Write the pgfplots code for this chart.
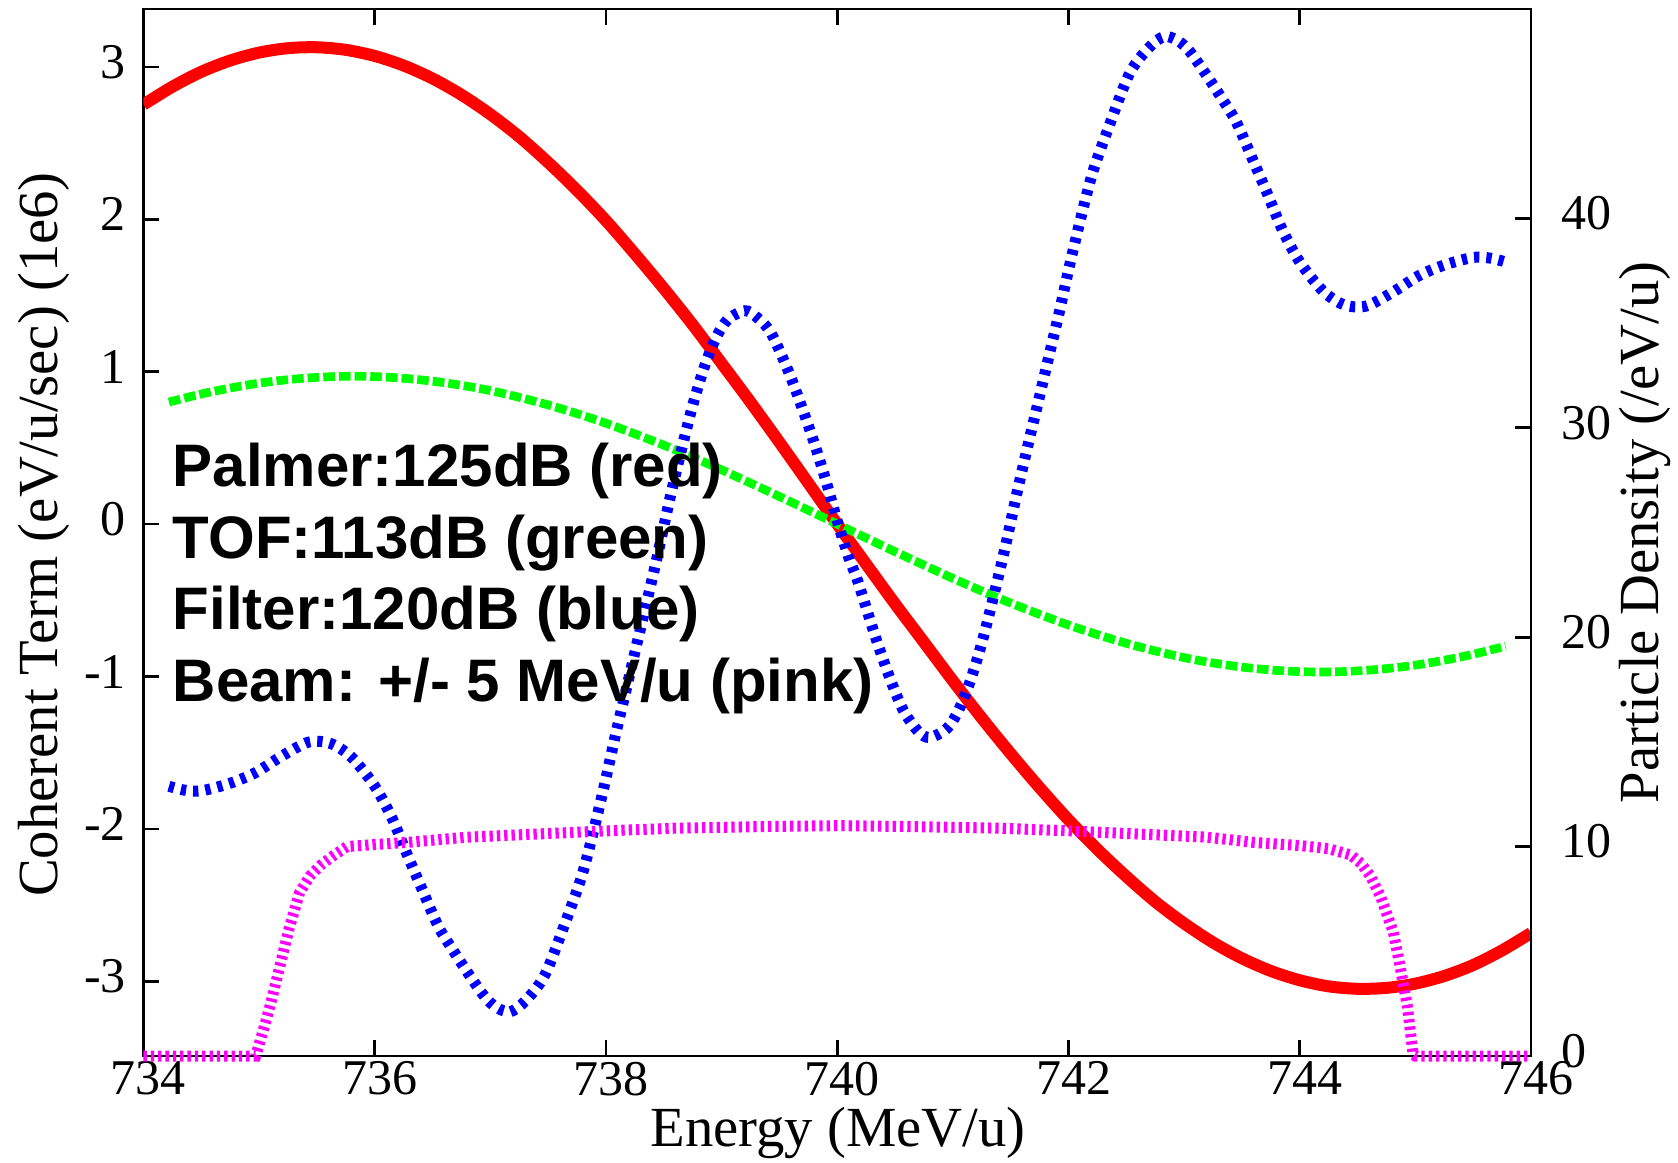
\documentclass[border=0pt]{standalone}
\usepackage{pgfplots}
\pgfplotsset{compat=1.18}
\usepackage{fontspec}
\setmainfont{Liberation Serif}
\newfontfamily\legfont{Liberation Sans}
\definecolor{gpred}{RGB}{255,0,0}
\definecolor{gpgreen}{RGB}{0,255,0}
\definecolor{gpblue}{RGB}{0,0,255}
\definecolor{gppink}{RGB}{255,0,255}
\pgfplotsset{
  common/.style={
    at={(0,0)}, anchor=south west,
    width=416.25pt, height=314.1pt, scale only axis,
    xmin=734, xmax=746,
    tick align=inside,
    major tick length=4.7pt,
    axis line style={line width=0.8pt, black},
    every tick/.style={black, line width=0.8pt},
    tick label style={font=\fontsize{15}{15}\selectfont},
    label style={font=\fontsize{17}{17}\selectfont},
  }
}
\begin{document}
\begin{tikzpicture}
\path[use as bounding box] (-43.05pt,-31.8pt) rectangle (460.35pt,316.8pt);
\begin{axis}[common,
  ymin=-3.49, ymax=3.38,
  xtick={734,736,738,740,742,744,746},
  xticklabels={734,736,738,740,742,744,746},
  xtick pos=both,
  ytick={-3,-2,-1,0,1,2,3},
  yticklabels={-3,-2,-1,0,1,2,3},
  ytick pos=left,
  xticklabel style={yshift=1.8pt, xshift=1.5pt},
  yticklabel style={xshift=-1.75pt, yshift=1.5pt},
  xlabel={Energy (MeV/u)},
  ylabel={Coherent Term (eV/u/sec) (1e6)},
  xlabel style={at={(axis description cs:0.5005,0)}, anchor=center, yshift=-23.2pt},
  ylabel style={at={(axis description cs:0,0.498)}, anchor=center, yshift=29.85pt},
]
% red: Palmer
\addplot[gpred, line width=3.6pt, smooth] coordinates {
(734.00,2.753)(734.25,2.870)(734.50,2.968)(734.75,3.042)(735.00,3.094)(735.25,3.123)
(735.50,3.129)(735.75,3.112)(736.00,3.072)(736.25,3.009)(736.50,2.924)(736.75,2.817)
(737.00,2.689)(737.25,2.542)(737.50,2.373)(737.75,2.190)(738.00,1.991)(738.25,1.773)
(738.50,1.546)(738.75,1.308)(739.00,1.055)(739.25,0.800)(739.50,0.537)(739.75,0.269)
(740.00,0.000)(740.25,-0.262)(740.50,-0.523)(740.75,-0.775)(741.00,-1.028)(741.25,-1.273)
(741.50,-1.506)(741.75,-1.729)(742.00,-1.940)(742.25,-2.134)(742.50,-2.312)(742.75,-2.477)
(743.00,-2.620)(743.25,-2.745)(743.50,-2.849)(743.75,-2.932)(744.00,-2.993)(744.25,-3.033)
(744.50,-3.049)(744.75,-3.043)(745.00,-3.015)(745.25,-2.965)(745.50,-2.893)(745.75,-2.797)
(746.00,-2.683)
};
% green: TOF
\addplot[gpgreen, line width=2.6pt, dash pattern=on 3.5pt off 1.2pt, smooth] coordinates {
(734.22,0.801)(734.50,0.854)(734.75,0.893)(735.00,0.925)(735.25,0.948)(735.50,0.963)
(735.75,0.970)(736.00,0.968)(736.25,0.957)(736.50,0.938)(736.75,0.911)(737.00,0.876)
(737.25,0.832)(737.50,0.782)(737.75,0.725)(738.00,0.662)(738.25,0.592)(738.50,0.518)
(738.75,0.439)(739.00,0.356)(739.25,0.269)(739.50,0.181)(739.75,0.091)(740.00,0.000)
(740.25,-0.091)(740.50,-0.181)(740.75,-0.269)(741.00,-0.356)(741.25,-0.439)(741.50,-0.518)
(741.75,-0.592)(742.00,-0.662)(742.25,-0.725)(742.50,-0.782)(742.75,-0.832)(743.00,-0.876)
(743.25,-0.911)(743.50,-0.938)(743.75,-0.957)(744.00,-0.968)(744.25,-0.970)(744.50,-0.963)
(744.75,-0.948)(745.00,-0.925)(745.25,-0.893)(745.50,-0.854)(745.78,-0.801)
};
% blue: Filter
\addplot[gpblue, line width=3.3pt, dash pattern=on 1.6pt off 2.1pt, smooth, tension=0.5] coordinates {
(734.22,-1.72)(734.35,-1.745)(734.50,-1.75)(734.75,-1.70)(734.97,-1.63)(735.20,-1.52)
(735.43,-1.43)(735.62,-1.44)(735.80,-1.53)(736.00,-1.72)(736.15,-1.93)(736.27,-2.15)
(736.40,-2.38)(736.55,-2.64)(736.68,-2.80)(736.81,-2.95)(736.95,-3.10)(737.05,-3.17)
(737.17,-3.20)(737.30,-3.13)(737.47,-2.96)(737.65,-2.61)(737.79,-2.31)(737.89,-2.02)
(737.99,-1.70)(738.08,-1.39)(738.17,-1.10)(738.25,-0.84)(738.35,-0.52)(738.45,-0.19)
(738.55,0.16)(738.65,0.48)(738.75,0.78)(738.85,1.03)(738.95,1.22)(739.05,1.34)
(739.20,1.40)(739.30,1.36)(739.43,1.25)(739.60,0.96)(739.78,0.58)(739.90,0.29)
(740.00,0.02)(740.10,-0.22)(740.18,-0.38)(740.33,-0.74)(740.45,-1.00)(740.57,-1.22)
(740.70,-1.36)(740.80,-1.40)(740.95,-1.34)(741.05,-1.22)(741.15,-1.03)(741.25,-0.78)
(741.35,-0.48)(741.45,-0.16)(741.55,0.19)(741.65,0.52)(741.75,0.84)(741.83,1.10)
(741.92,1.39)(742.01,1.70)(742.11,2.02)(742.21,2.31)(742.35,2.61)(742.53,2.96)
(742.70,3.13)(742.83,3.20)(742.95,3.17)(743.05,3.10)(743.19,2.95)(743.32,2.80)
(743.45,2.64)(743.60,2.38)(743.73,2.15)(743.85,1.93)(744.00,1.72)(744.20,1.53)
(744.38,1.44)(744.57,1.43)(744.80,1.52)(745.03,1.63)(745.25,1.70)(745.50,1.75)
(745.65,1.745)(745.78,1.72)
};
\node[anchor=west, inner sep=0pt, font=\legfont\bfseries\fontsize{18}{18}\selectfont] at (axis description cs:0.0207,0.5583) {Palmer:125dB (red)};
\node[anchor=west, inner sep=0pt, font=\legfont\bfseries\fontsize{18}{18}\selectfont] at (axis description cs:0.0207,0.4895) {TOF:113dB (green)};
\node[anchor=west, inner sep=0pt, font=\legfont\bfseries\fontsize{18}{18}\selectfont] at (axis description cs:0.0207,0.4217) {Filter:120dB (blue)};
\node[anchor=west, inner sep=0pt, font=\legfont\bfseries\fontsize{18}{18}\selectfont] at (axis description cs:0.0207,0.3534) {Beam: +/- 5 MeV/u (pink)};
\end{axis}
\begin{axis}[common,
  ymin=0, ymax=50,
  axis x line=none,
  axis y line*=right,
  clip=false,
  ytick={0,10,20,30,40},
  yticklabels={0,10,20,30,40},
  yticklabel style={anchor=west, xshift=5.5pt, yshift=1.5pt},
  ylabel={Particle Density (/eV/u)},
  ylabel style={at={(axis description cs:1,0.5)}, anchor=center, yshift=-34.2pt},
]
% pink: beam
\addplot[gppink, line width=3.3pt, dash pattern=on 1.0pt off 1.2pt] coordinates {
(734.00,0)(734.50,0)(734.97,0)(735.05,1.5)(735.10,2.5)(735.18,4.3)(735.26,6.1)
(735.35,7.8)(735.44,8.6)(735.53,9.1)(735.65,9.6)(735.76,10.0)(736.00,10.1)
(736.28,10.2)(736.80,10.45)(737.40,10.6)(738.00,10.75)(738.60,10.88)(739.40,10.96)
(740.00,11.0)(740.60,10.96)(741.40,10.88)(742.00,10.75)(742.60,10.6)(743.20,10.45)
(743.60,10.2)(744.00,10.05)(744.25,9.9)(744.44,9.6)(744.53,9.2)(744.61,8.6)
(744.70,7.6)(744.81,5.9)(744.87,4.2)(744.93,2.4)(744.98,0.1)(745.00,0)(745.50,0)(746.00,0)
};
\end{axis}
\end{tikzpicture}
\end{document}
